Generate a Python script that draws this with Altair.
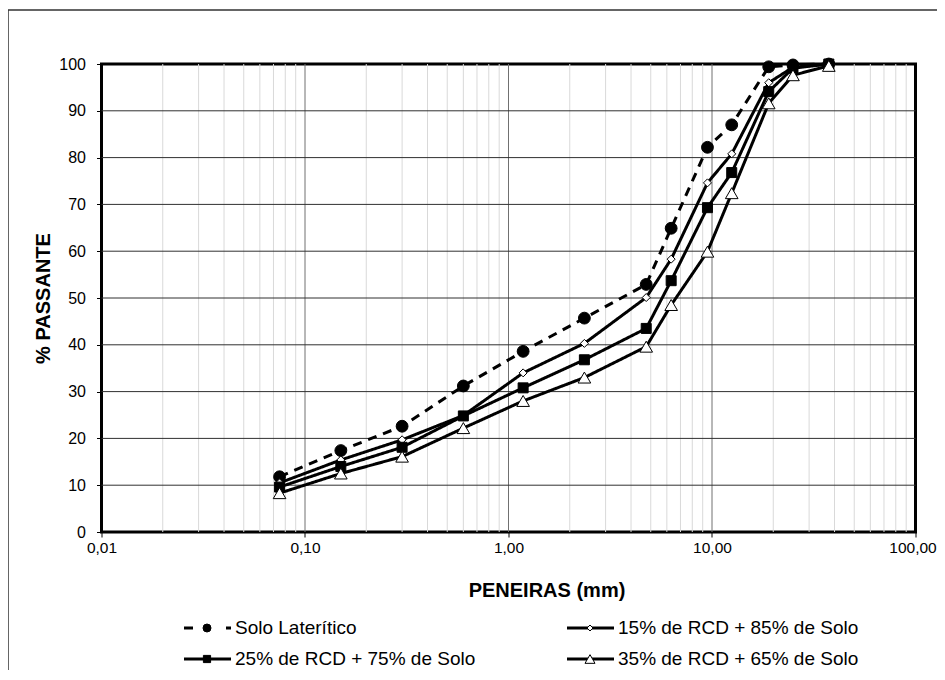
import altair as alt
import pandas as pd

# ---- data ----
sieves = [0.075, 0.15, 0.3, 0.6, 1.18, 2.36, 4.75, 6.3, 9.5, 12.5, 19.0, 25.0, 37.5]
series_names = ["Solo Laterítico", "15% de RCD + 85% de Solo",
                "25% de RCD + 75% de Solo", "35% de RCD + 65% de Solo"]
solo = [11.8, 17.4, 22.6, 31.2, 38.6, 45.7, 52.9, 64.9, 82.2, 87.0, 99.4, 99.8, 100.0]
p15 = [10.5, 15.4, 19.7, 24.9, 34.0, 40.3, 50.1, 58.3, 74.6, 80.8, 96.0, 99.3, 100.0]
p25 = [9.6, 14.0, 18.1, 24.8, 30.8, 36.8, 43.5, 53.7, 69.3, 76.8, 94.1, 99.1, 100.0]
p35 = [8.3, 12.5, 16.1, 22.2, 28.0, 33.0, 39.6, 48.5, 59.9, 72.4, 91.6, 97.6, 99.6]
x_ticks = [0.01, 0.1, 1, 10, 100]
y_ticks = list(range(0, 101, 10))

rows = []
for name, vals in zip(series_names, [solo, p15, p25, p35]):
    for s, v in zip(sieves, vals):
        rows.append({"serie": name, "abertura": s, "passante": v})
df = pd.DataFrame(rows)

minor = [k * 10.0 ** e for e in range(-2, 2) for k in range(2, 10)]
df_minor = pd.DataFrame({"v": minor})
df_major = pd.DataFrame({"v": [0.1, 1, 10]})
df_h = pd.DataFrame({"h": list(range(10, 100, 10))})

W, H = 814, 468
FONT = "Liberation Sans"

xscale = alt.Scale(type="log", domain=[0.01, 100], nice=False)
yscale = alt.Scale(domain=[0, 100], nice=False, zero=True)

x_axis = alt.Axis(values=x_ticks, grid=False, domain=False,
                  labelExpr="replace(format(datum.value, '.2f'), '.', ',')",
                  tickSize=5, tickColor="black", tickWidth=1,
                  labelFont=FONT, labelFontSize=15.5, labelColor="black",
                  labelPadding=3, labelFlush=False, labelOverlap=False,
                  labelOffset={"condition": {"test": "datum.value == 100", "value": -3}, "value": 0},
                  title="PENEIRAS (mm)", titleFont=FONT, titleFontSize=20,
                  titleFontWeight="bold", titleColor="black",
                  titleX=445, titleY=58.5, titleBaseline="middle")
y_axis = alt.Axis(values=y_ticks, grid=False, domain=False,
                  tickSize=5, tickColor="black", tickWidth=1,
                  labelFont=FONT, labelFontSize=16, labelColor="black",
                  labelPadding=11,
                  title="% PASSANTE", titleFont=FONT, titleFontSize=20,
                  titleFontWeight="bold", titleColor="black",
                  titleX=-58, titleY=H / 2, titleBaseline="middle", titleAngle=270)

X = alt.X("abertura:Q", scale=xscale, axis=x_axis)
Y = alt.Y("passante:Q", scale=yscale, axis=y_axis)

dash_scale = alt.Scale(domain=series_names, range=[[9, 7], [1, 0], [1, 0], [1, 0]])

# marker styles per series: (shape, fill, size in plot, size in legend)
marker_styles = [("circle", "black", 140, 64),
                 ("diamond", "white", 64, 36),
                 ("square", "black", 100, 52),
                 ("triangle-up", "white", 160, 100)]

frame = alt.Chart(pd.DataFrame({"a": [0]})).mark_rect(
    fill=None, stroke="#333333", strokeWidth=1.5, clip=False
).encode(x=alt.value(-93.5), x2=alt.value(W + 200), y=alt.value(-54), y2=alt.value(H + 300))

minor_rules = alt.Chart(df_minor).mark_rule(color="#d9d9d9", strokeWidth=1).encode(
    x=alt.X("v:Q", scale=xscale, axis=x_axis))
major_rules = alt.Chart(df_major).mark_rule(color="#707070", strokeWidth=1).encode(
    x=alt.X("v:Q", scale=xscale, axis=x_axis))
h_rules = alt.Chart(df_h).mark_rule(color="#303030", strokeWidth=1).encode(
    y=alt.Y("h:Q", scale=yscale, axis=y_axis))

lines = alt.Chart(df).mark_line(color="black", strokeWidth=3).encode(
    x=X, y=Y, detail="serie:N",
    strokeDash=alt.StrokeDash("serie:N", scale=dash_scale, legend=None))

point_layers = []
for name, (shp, fl, sz, _) in zip(series_names, marker_styles):
    point_layers.append(
        alt.Chart(df).transform_filter(alt.datum.serie == name).mark_point(
            shape=shp, filled=True, fill=fl, stroke="black", strokeWidth=1,
            opacity=1, size=sz).encode(x=X, y=Y))

# ---- manual legend (layout positions in pixels, relative to the plot origin) ----
leg = pd.DataFrame({
    "serie": series_names,
    "x0": [82.5, 465.5, 82.5, 465.5],
    "x1": [129.5, 512.5, 129.5, 512.5],
    "mx": [105.5, 488.5, 105.5, 488.5],
    "tx": [133.5, 516.5, 133.5, 516.5],
    "ly": [564, 564, 595, 595],
})
leg_dash = alt.Scale(domain=series_names, range=[[9, 33], [1, 0], [1, 0], [1, 0]])
leg_lines = alt.Chart(leg).mark_rule(color="black", strokeWidth=3, clip=False).encode(
    x=alt.X("x0:Q", scale=None), x2="x1:Q", y=alt.Y("ly:Q", scale=None),
    strokeDash=alt.StrokeDash("serie:N", scale=leg_dash, legend=None))
leg_pt_layers = []
for name, (shp, fl, _, lsz) in zip(series_names, marker_styles):
    leg_pt_layers.append(
        alt.Chart(leg).transform_filter(alt.datum.serie == name).mark_point(
            shape=shp, filled=True, fill=fl, stroke="black", strokeWidth=1,
            opacity=1, size=lsz, clip=False).encode(
            x=alt.X("mx:Q", scale=None), y=alt.Y("ly:Q", scale=None)))
leg_text = alt.Chart(leg).mark_text(align="left", baseline="middle", font=FONT,
                                    fontSize=19, color="black", clip=False).encode(
    x=alt.X("tx:Q", scale=None), y=alt.Y("ly:Q", scale=None), text="serie:N")

chart = alt.layer(
    frame, minor_rules, major_rules, h_rules, lines, *point_layers,
    leg_lines, *leg_pt_layers, leg_text
).resolve_scale(
    strokeDash="independent"
).properties(
    width=W, height=H,
    padding={"left": 93.5, "top": 56, "right": 21.5, "bottom": 138},
    autosize=alt.AutoSizeParams(type="none"),
).configure(background="white").configure_view(stroke="black", strokeWidth=3)

chart.save("out.html", embed_options={"renderer": "svg", "actions": False})
